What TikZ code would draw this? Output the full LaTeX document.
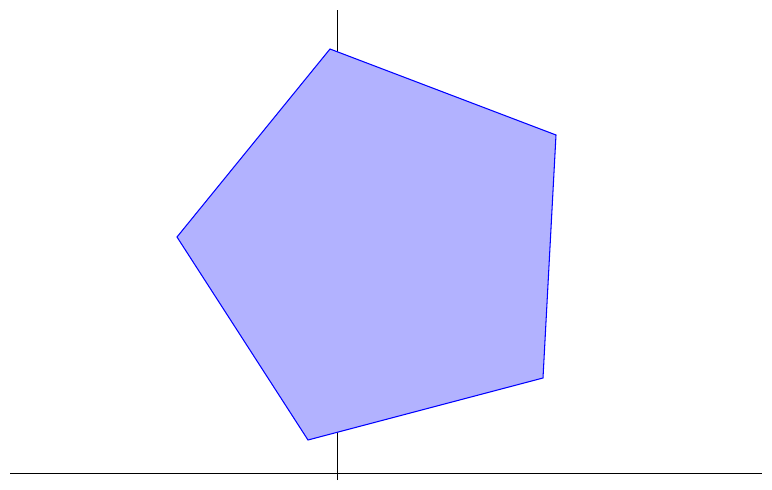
\documentclass[tikz,border=0pt]{standalone}
\usepackage{tikz}
\usetikzlibrary{positioning,calc}
\definecolor{penta}{RGB}{178,178,255}

\begin{document}
\begin{tikzpicture}[x=0.02cm,y=-0.02cm,
            axis/.style={draw,black,line width=0.45pt},
            pentagon/.style={draw=blue,fill=penta,line width=0.6pt,line join=miter}]
        \useasboundingbox (0,0) rectangle (772,490);
        % axes
        \coordinate (xl) at (10,473);
        \coordinate (xr) at (762,473);
        \coordinate (yb) at (337,480);
        \coordinate (yt) at (337,10);
        \draw[axis] (xl) -- (xr);
        \draw[axis] (yb) -- (yt);
        % corners
        \coordinate (p1) at (330,49);
        \coordinate (p2) at (556,135);
        \coordinate (p3) at (543,378);
        \coordinate (p4) at (308,440);
        \coordinate (p5) at (177,237);
        \draw[pentagon] (p1) -- (p2) -- (p3) -- (p4) -- (p5) -- cycle;
        \end{tikzpicture}
\end{document}
